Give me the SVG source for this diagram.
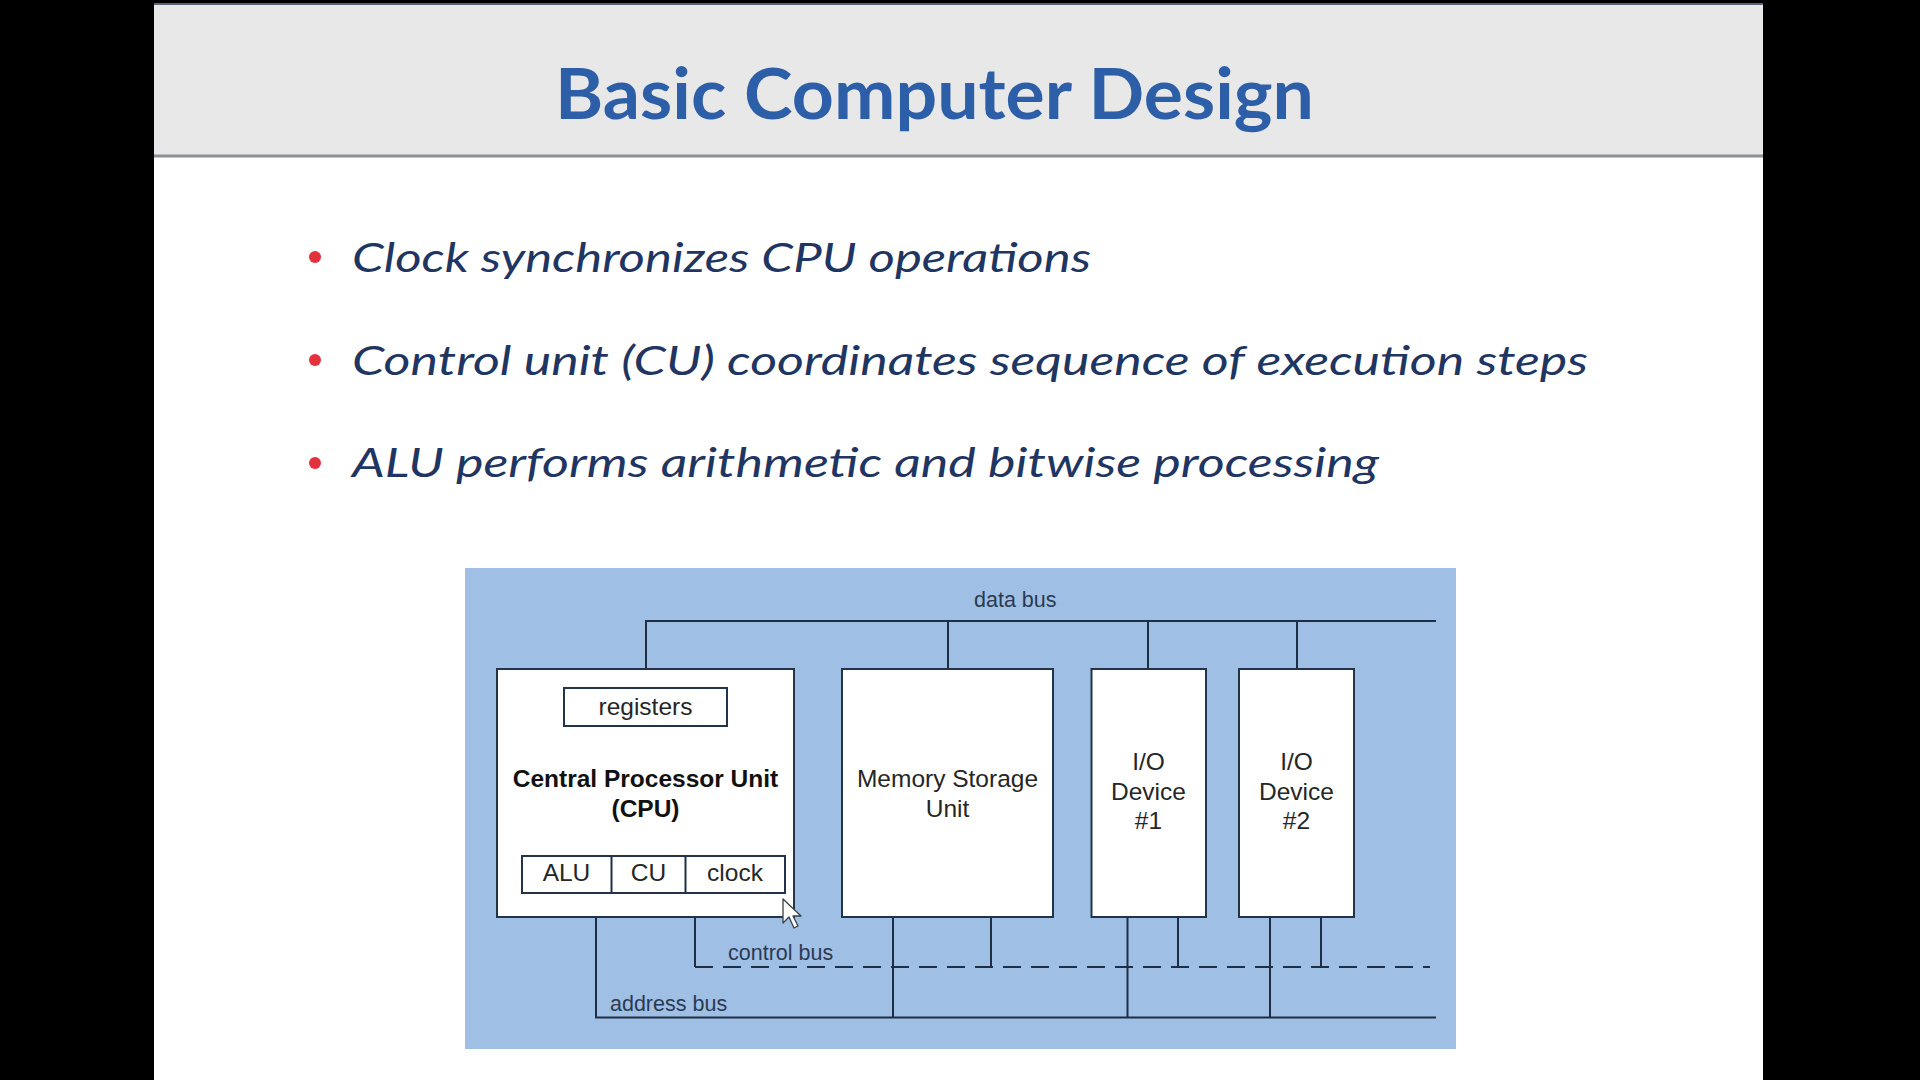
<svg xmlns="http://www.w3.org/2000/svg" width="1920" height="1080" viewBox="0 0 1920 1080">
  <style>
    .title { font-family: Lato, "Open Sans", sans-serif; font-weight: 700; font-size: 71px; fill: #2d5ea8; }
    .bullet { font-family: Lato, "Open Sans", sans-serif; font-style: italic; font-size: 40px; fill: #1f3562; }
    .dot { fill: #e4323d; }
    .box { fill: #ffffff; stroke: #23344a; stroke-width: 2; }
    .lbl { font-family: "Liberation Sans", Arial, sans-serif; font-size: 24.5px; fill: #262626; text-anchor: middle; }
    .lbl-b { font-weight: 700; fill: #111111; }
    .bus { font-family: "Liberation Sans", Arial, sans-serif; font-size: 21.5px; fill: #2a3a52; }
    .wire { stroke: #1e2f45; stroke-width: 2; fill: none; }
    .dash { stroke-dasharray: 18 10; }
  </style>

  <!-- screen surround -->
  <rect x="0" y="0" width="1920" height="1080" fill="#000000"/>

  <!-- slide -->
  <rect x="154" y="3" width="1609" height="1077" fill="#ffffff"/>
  <rect x="154" y="3" width="1609" height="152" fill="#e8e8e8"/>
  <line x1="154" y1="4" x2="1763" y2="4" stroke="#55657c" stroke-width="2"/>
  <line x1="154" y1="156" x2="1763" y2="156" stroke="#8a8f99" stroke-width="3"/>
  <text class="title" x="555" y="119" textLength="759" lengthAdjust="spacingAndGlyphs">Basic Computer Design</text>

  <!-- bullet list -->
  <g id="bullets">
    <circle class="dot" cx="315" cy="257" r="6"/>
    <text class="bullet" x="352" y="272" textLength="739" lengthAdjust="spacingAndGlyphs">Clock synchronizes  CPU operations</text>
    <circle class="dot" cx="315" cy="360" r="6"/>
    <text class="bullet" x="352" y="375" textLength="1236" lengthAdjust="spacingAndGlyphs">Control unit (CU) coordinates sequence of execution steps</text>
    <circle class="dot" cx="315" cy="463" r="6"/>
    <text class="bullet" x="352" y="477" textLength="1027" lengthAdjust="spacingAndGlyphs">ALU performs arithmetic and bitwise processing</text>
  </g>

  <!-- diagram backdrop -->
  <rect x="465" y="568" width="991" height="481" fill="#a0bfe5"/>

  <!-- buses -->
  <g id="connectors">
    <!-- data bus -->
    <polyline class="wire" points="646,669 646,621 1436,621"/>
    <line class="wire" x1="948" y1="621" x2="948" y2="669"/>
    <line class="wire" x1="1148" y1="621" x2="1148" y2="669"/>
    <line class="wire" x1="1297" y1="621" x2="1297" y2="669"/>
    <!-- control bus -->
    <line class="wire" x1="695" y1="917" x2="695" y2="967"/>
    <line class="wire dash" x1="695" y1="967" x2="1430" y2="967"/>
    <line class="wire" x1="991" y1="917" x2="991" y2="967"/>
    <line class="wire" x1="1178" y1="917" x2="1178" y2="967"/>
    <line class="wire" x1="1321" y1="917" x2="1321" y2="967"/>
    <!-- address bus -->
    <polyline class="wire" points="596,917 596,1017.5 1436,1017.5"/>
    <line class="wire" x1="893" y1="917" x2="893" y2="1017.5"/>
    <line class="wire" x1="1127.5" y1="917" x2="1127.5" y2="1017.5"/>
    <line class="wire" x1="1270" y1="917" x2="1270" y2="1017.5"/>
    <text class="bus" x="974" y="607">data bus</text>
    <text class="bus" x="728" y="960">control bus</text>
    <text class="bus" x="610" y="1011">address bus</text>
  </g>

  <!-- CPU -->
  <g id="cpu">
    <rect class="box" x="497" y="669" width="297" height="248"/>
    <rect class="box" x="564" y="688" width="163" height="38"/>
    <text class="lbl" x="645.5" y="715">registers</text>
    <text class="lbl lbl-b" x="645.5" y="787">Central Processor Unit</text>
    <text class="lbl lbl-b" x="645.5" y="817">(CPU)</text>
    <rect class="box" x="522" y="856" width="263" height="37"/>
    <line class="wire" x1="611.5" y1="856" x2="611.5" y2="893"/>
    <line class="wire" x1="685.5" y1="856" x2="685.5" y2="893"/>
    <text class="lbl" x="566.5" y="881">ALU</text>
    <text class="lbl" x="648.5" y="881">CU</text>
    <text class="lbl" x="735" y="881">clock</text>
  </g>

  <!-- memory -->
  <g id="memory">
    <rect class="box" x="842" y="669" width="211" height="248"/>
    <text class="lbl" x="947.5" y="787">Memory Storage</text>
    <text class="lbl" x="947.5" y="817">Unit</text>
  </g>

  <!-- I/O devices -->
  <g id="io1">
    <rect class="box" x="1091.5" y="669" width="114.5" height="248"/>
    <text class="lbl" x="1148.5" y="770">I/O</text>
    <text class="lbl" x="1148.5" y="800">Device</text>
    <text class="lbl" x="1148.5" y="829">#1</text>
  </g>
  <g id="io2">
    <rect class="box" x="1239" y="669" width="115" height="248"/>
    <text class="lbl" x="1296.5" y="770">I/O</text>
    <text class="lbl" x="1296.5" y="800">Device</text>
    <text class="lbl" x="1296.5" y="829">#2</text>
  </g>

  <!-- mouse pointer -->
  <polygon points="783,899 783,923 789,917 794,928 798,926 793,916 801,916" fill="#ffffff" stroke="#3a3f48" stroke-width="1.3" stroke-linejoin="round"/>
</svg>
